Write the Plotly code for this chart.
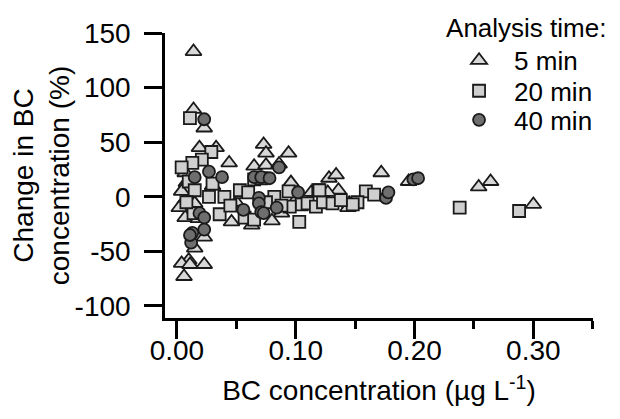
import plotly.graph_objects as go

# 5 min (triangles)
x_5 = [0.014, 0.014, 0.023, 0.019, 0.033, 0.044, 0.073, 0.075, 0.094, 0.065,
       0.075, 0.086, 0.007, 0.008, 0.096, 0.007, 0.015, 0.007, 0.046, 0.046,
       0.063, 0.088, 0.010, 0.004, 0.023, 0.006, 0.015, 0.023, 0.011, 0.116,
       0.128, 0.134, 0.172, 0.136, 0.145, 0.144, 0.113, 0.127, 0.195, 0.254,
       0.264, 0.300, 0.004, 0.030, 0.050, 0.080, 0.018, 0.055, 0.100, 0.002]
y_5 = [133, 80, 63, 45, 45, 31, 48, 40, 40, 28,
       29, 30, 22, 13, 13, -3, -6, -19, -10, -23,
       -26, -15, -58, -61, -62, -73, -47, -37, -62, 4,
       17, 20, 22, 6, -6, -10, 4, 4, 14, 9,
       14, -7, 5, 10, -5, -22, -20, 2, -3, -10]

# 20 min (squares)
x_20 = [0.011, 0.029, 0.021, 0.013, 0.004, 0.010, 0.015, 0.027, 0.040, 0.053,
        0.060, 0.065, 0.071, 0.082, 0.094, 0.105, 0.110, 0.119, 0.036, 0.014,
        0.057, 0.065, 0.103, 0.095, 0.117, 0.123, 0.120, 0.159, 0.166, 0.152,
        0.131, 0.148, 0.238, 0.288, 0.008, 0.045, 0.075, 0.088, 0.030, 0.138]
y_20 = [72, 41, 34, 31, 27, 14, 6, 0, 0, 6,
        4, 16, 17, 0, 5, -7, -6, 6, -16, -15,
        -19, -21, -23, -9, -9, -5, 6, 5, 2, -5,
        -6, -7, -10, -13, -5, -8, -5, -8, 12, -3]

# 40 min (circles)
x_40 = [0.023, 0.015, 0.027, 0.038, 0.065, 0.071, 0.078, 0.086, 0.019, 0.023,
        0.056, 0.069, 0.069, 0.071, 0.084, 0.102, 0.023, 0.013, 0.012, 0.011,
        0.176, 0.178, 0.199, 0.203, 0.073]
y_40 = [71, 18, 23, 18, 18, 18, 17, 27, -15, -19,
        -12, -1, -6, -14, -10, 4, -30, -33, -42, -35,
        -1, 4, 16, 17, -15]

y_tickvals = [-100, -50, 0, 50, 100, 150]
y_ticktext = ["-100", "-50", "0", "50", "100", "150"]

series = [
    ("5 min", x_5, y_5, "triangle-up", "#d8d8d8", 14, "legend"),
    ("20 min", x_20, y_20, "square", "#cfcfcf", 12, "legend2"),
    ("40 min", x_40, y_40, "circle", "#6e6e6e", 12, "legend3"),
]

FONT = "Liberation Sans, Arial, Helvetica, sans-serif"

fig = go.Figure()
for name, xs, ys, sym, col, sz, leg in series:
    fig.add_trace(go.Scatter(
        x=xs, y=ys, mode="markers", name=name, legend=leg,
        marker=dict(symbol=sym, size=sz, color=col,
                    line=dict(color="#1a1a1a", width=1.8))))

leg_common = dict(x=0.652, xanchor="left", bgcolor="rgba(0,0,0,0)",
                  itemwidth=60, font=dict(size=26))

# page body has an 8px margin, so the figure is 8px smaller than the window
fig.update_layout(
    width=612, height=411,
    margin=dict(l=157, r=27, t=25, b=101, autoexpand=False),
    plot_bgcolor="white", paper_bgcolor="white",
    font=dict(family=FONT, color="black", size=28),
    showlegend=True,
    legend=dict(y=1.105, yanchor="top",
                title=dict(text="Analysis time:", font=dict(size=26), side="top"),
                **leg_common),
    legend2=dict(y=0.797, yanchor="middle", **leg_common),
    legend3=dict(y=0.695, yanchor="middle", **leg_common),
)

fig.update_xaxes(
    range=[-0.01, 0.3502], showgrid=False, zeroline=False,
    showline=True, linecolor="black", linewidth=2.5,
    ticks="outside", ticklen=18, tickwidth=2.5, tickcolor="black",
    tick0=0, dtick=0.1, tickformat=".2f",
    minor=dict(dtick=0.05, tick0=0, ticks="outside", ticklen=8,
               tickwidth=2.5, tickcolor="black"),
    tickfont=dict(size=28), ticklabelstandoff=-12,
    title=dict(text="BC concentration (µg L<sup>-1</sup>)",
               font=dict(size=28), standoff=16),
    automargin=False,
)

fig.update_yaxes(
    range=[-111, 150], showgrid=False, zeroline=False,
    showline=True, linecolor="black", linewidth=2.5,
    ticks="outside", ticklen=18, tickwidth=2.5, tickcolor="black",
    tickvals=y_tickvals, ticktext=y_ticktext,
    tickfont=dict(size=28), ticklabelstandoff=8,
    title=dict(text="Change in BC<br>concentration (%)",
               font=dict(size=28), standoff=0),
    automargin=False,
)

fig.write_html("out.html")
